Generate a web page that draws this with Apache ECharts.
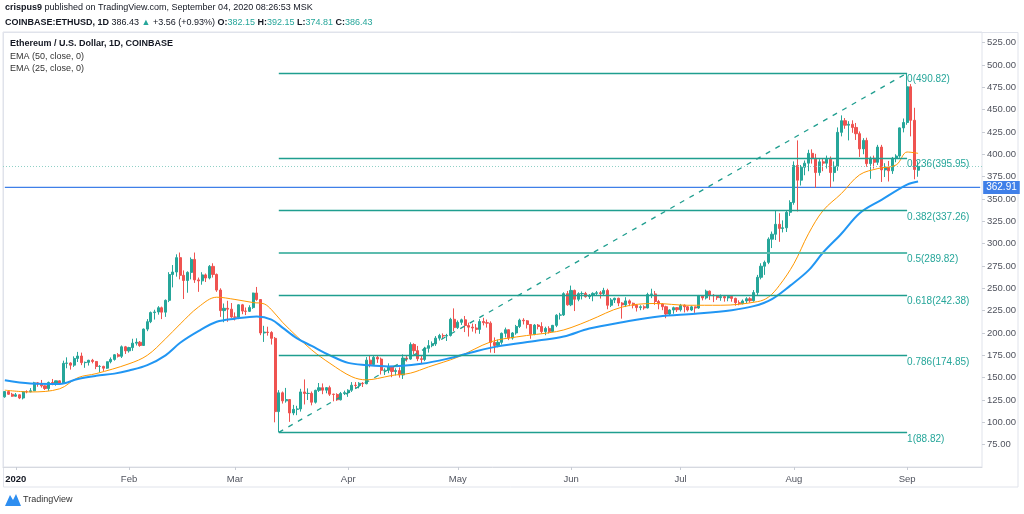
<!DOCTYPE html>
<html><head><meta charset="utf-8">
<script src="https://cdn.jsdelivr.net/npm/echarts@6/dist/echarts.min.js"></script>
<style>html,body{margin:0;padding:0;background:#fff}#c{width:1024px;height:514px}</style>
</head><body><div id="c"></div>
<script>
// ---------- DATA ----------
const startDate = '2019-12-29';
const axisDays = 268; // empty days after last candle keep right margin
const monthLabels = ['2020','Feb','Mar','Apr','May','Jun','Jul','Aug','Sep'];
const yTicks = [75,100,125,150,175,200,225,250,275,300,325,350,375,400,425,450,475,500,525];

// daily rows: [open, high, low, close]
const ohlcDec = [[128.5,135,127.5,134.4],[134.4,134.9,130.8,131.4],[131.4,133,128.5,129.2]];
const ohlcJan = [[129.2,132.8,128.6,130.8],[130.8,131.2,126,127.2],[127.2,135,125.6,134.3],[134.3,135.8,132.5,134.2],[134.2,138.3,133.6,135.3],[135.3,145.3,135,144.2],[144.2,145,139.8,142.9],[142.9,147.4,138.8,140.8],[140.8,141.4,136.2,137.8],[137.8,145.6,135.2,144.6],[144.6,148.5,141.5,142.4],[142.4,146.6,141,146.4],[146.4,146.9,142.6,144],[144,169,143.6,166],[166,172.7,160.5,166.4],[166.4,167.2,159,164],[164,173.8,162,171.5],[171.5,178.8,167.5,174.2],[174.2,178,164,166.8],[166.8,168,161,167.1],[167.1,170,163.5,169.4],[169.4,171,166,168.1],[168.1,168.5,159.5,162.5],[162.5,164,156,162.6],[162.6,163.3,157.5,160.6],[160.6,168,159.8,167.8],[167.8,172.6,166,170.4],[170.4,176.3,169,175.6],[175.6,177.5,172.5,173.9],[173.9,186,172,184.5],[184.5,185.5,176.5,180]];
const ohlcFeb = [[180,184.5,178,183.6],[183.6,193.5,180,188.6],[188.6,194,186,189.6],[189.6,191,184.5,186],[186,205,185.5,204.3],[204.3,215.5,202,212.6],[212.6,224,211,222.8],[222.8,226,215,223.5],[223.5,230,220.5,228.2],[228.2,229.5,215.5,223.3],[223.3,237.5,218,236.5],[236.5,268,234.5,265.4],[265.4,276,251,268.2],[268.2,288,263,284.3],[284.3,290,260,264.5],[264.5,270,238,258.7],[258.7,269,245,267.8],[267.8,284.5,260,282.3],[282.3,290,256,259.4],[259.4,262,246,258.3],[258.3,268,254,265],[265,266.5,257,261.5],[261.5,276,260,274.5],[274.5,278,262,265.5],[265.5,266.5,246,248],[248,250,218,225],[225,233,212,227.6],[227.6,236,212.5,226.6],[226.6,233.5,217,217.9]];
const ohlcMar = [[217.9,223,214,217.6],[217.6,232,215.5,231.5],[231.5,232.5,221,224.5],[224.5,228.5,220,224.2],[224.2,231,223.5,228.4],[228.4,245,227,244.7],[244.7,251.5,236,237.4],[237.4,238,197.5,200],[200,208,190,201],[201,207,197,200.5],[200.5,202,187,194],[194,195.5,100,112],[112,136,88.82,133],[133,134.5,121,124],[124,138.5,122,125.5],[125.5,126,100.5,110.5],[110.5,119.5,108,114.5],[114.5,118.5,108,115],[115,137.5,112,134],[134,148,120,132.3],[132.3,138,125,132.4],[132.4,134.5,119,122.5],[122.5,136.5,121,135.8],[135.8,144,134,138.7],[138.7,143.5,131.5,136],[136,139.5,132.5,138.8],[138.8,141,129.5,131.5],[131.5,132,123.5,131.2],[131.2,132.5,124,125.2],[125.2,134,124.5,132.3],[132.3,135.5,130.5,133.2]];
const ohlcApr = [[133.2,137,128.5,135.9],[135.9,145,134,141.5],[141.5,145,137.5,141.2],[141.2,145,138,143.7],[143.7,145,139.5,143.2],[143.2,173,142.5,169.6],[169.6,175,161.5,164.7],[164.7,174.5,163,172.7],[172.7,175,166.5,170.8],[170.8,172.5,153.5,158.2],[158.2,160.5,153,158.3],[158.3,166,155,161.8],[161.8,162,150.5,156.9],[156.9,160.5,152.5,157.9],[157.9,161.5,150,153],[153,176,148.5,171.9],[171.9,175,168,170.8],[170.8,189.5,170,187.1],[187.1,188.5,176,180.2],[180.2,185.5,168.5,171.2],[171.2,174.5,166,170.4],[170.4,184.5,168.5,182.8],[182.8,192,178,185.8],[185.8,190.5,184,187.8],[187.8,196.5,185.5,194.2],[194.2,199,191.5,197.2],[197.2,199.5,193,196.6],[196.6,199,191,197.2],[197.2,217,196,215.3],[215.3,227.5,202,206]];
const ohlcMay = [[206,214,204.5,211.9],[211.9,216,209,214.7],[214.7,219,201,208.3],[208.3,211.5,196,206.5],[206.5,210.5,201.5,205.6],[205.6,210,199.5,204],[204,215.5,199,212.8],[212.8,217,208.5,211.5],[211.5,215,206,211],[211,213,178,189.4],[189.4,195,177.5,186],[186,192.5,184,189.5],[189.5,200.5,187,199.6],[199.6,206,195,203.6],[203.6,204,192,194.3],[194.3,201,192.5,200],[200,209,198,207.3],[207.3,216,205.5,214.3],[214.3,216.5,209.5,213.6],[213.6,214.5,205,209.5],[209.5,210,193.5,198.5],[198.5,210,197.5,208.8],[208.8,210,204,207.2],[207.2,212,199.5,201.5],[201.5,207,197.5,205.1],[205.1,207.5,199.5,201.7],[201.7,209,201,208.5],[208.5,221,206.5,219.9],[219.9,222.5,215,220.2],[220.2,245.5,219,244],[244,247,230.5,231.5]];
const ohlcJun = [[231.5,253,230,247.6],[247.6,248.5,224.5,237.7],[237.7,245.5,235.5,244],[244,246.5,237.5,244.2],[244.2,246,239.5,240.6],[240.6,243.5,238,241.9],[241.9,245.5,235.5,244.3],[244.3,247,241.5,245],[245,247,238.5,244],[244,250.5,241.5,247.6],[247.6,249.5,226.5,231],[231,239,229,237],[237,239.5,233.5,238.8],[238.8,239.5,230,233.5],[233.5,234.5,216,231.4],[231.4,240,229,235.9],[235.9,237.5,230,233.2],[233.2,234,227.5,231],[231,232.5,224,228.4],[228.4,231,225.5,229.3],[229.3,231,226,228],[228,245,227.5,243],[243,249.5,239,243.7],[243.7,247,231.5,235.2],[235.2,237,226.5,232.5],[232.5,233.5,225.5,229.4],[229.4,230.5,216.5,221.2],[221.2,226.5,219,225.7],[225.7,229.5,221.5,228.3],[228.3,229,223.5,226]];
const ohlcJul = [[226,232.5,224,231],[231,232,223,229.3],[229.3,230,224,225.7],[225.7,230.5,224.5,229.2],[229.2,229.5,222.5,227.9],[227.9,242.5,227,241.6],[241.6,242,236.5,239.2],[239.2,248.5,237.5,246.8],[246.8,247.5,237,242.2],[242.2,243.5,234.5,241.7],[241.7,242.5,237,239.5],[239.5,243,236,240.7],[240.7,242.5,235,239.2],[239.2,241.5,235.5,240.9],[240.9,242,235,238.7],[238.7,239.5,230.5,233.9],[233.9,236.5,231,232.8],[232.8,237.5,232,235.8],[235.8,240,233.5,238.3],[238.3,240,234,236.1],[236.1,248,235,245.2],[245.2,265,242,262.3],[262.3,278,260,274.7],[274.7,281,265,279],[279,307,277,305],[305,313.5,295,310.5],[310.5,336.5,304,321.6],[321.6,334,302,317],[317,326,312.5,317.7],[317.7,337,313,335],[335,348.5,331,346]];
const ohlcAug = [[346,392,343.5,387.5],[387.5,415.5,336,371],[371,388,365,385.5],[385.5,393,376.5,390],[390,405,381,401],[401,405.5,389.5,395.5],[395.5,400.5,362.5,379.5],[379.5,394.5,376,391.5],[391.5,395,381,390],[390,398.5,384,394.5],[394.5,397.5,363,379.5],[379.5,392,369.5,386.5],[386.5,430,381.5,424.5],[424.5,443.5,420,437.5],[437.5,440.5,428.5,432.5],[432.5,437,415.5,433.5],[433.5,438,424,430],[430,435,416,423],[423,425.5,397,406],[406,418,400,415.5],[415.5,418.5,386,389.5],[389.5,397.5,372.5,395.5],[395.5,398.5,384,391],[391,410.5,388,408],[408,410.5,369,382.5],[382.5,390,374.5,385.5],[385.5,392.5,369.5,381.5],[381.5,397,378,395.5],[395.5,400,391,398],[398,430,396,429.5],[429.5,440,424.5,435.5]];
const ohlcSep = [[435.5,490.82,433,475.5],[475.5,478.5,420,438],[438,452,372,382.87],[382.15,392.15,374.81,386.43]];

// EMA lines: [date, value]
const ema50Points = [['2019-12-29',147],['2020-01-05',143.5],['2020-01-13',143],['2020-01-18',148.5],['2020-01-23',152],['2020-01-28',154.5],['2020-02-01',158],['2020-02-06',164],['2020-02-11',175],['2020-02-15',189],['2020-02-20',202],['2020-02-25',212.5],['2020-03-01',216],['2020-03-07',218.5],['2020-03-11',215],['2020-03-14',206],['2020-03-18',194],['2020-03-22',185.5],['2020-03-27',175],['2020-04-01',166.5],['2020-04-06',164],['2020-04-12',162.5],['2020-04-21',165.5],['2020-04-28',171],['2020-05-05',178.5],['2020-05-12',185],['2020-05-23',191.5],['2020-05-30',196],['2020-06-06',205],['2020-06-15',212],['2020-06-25',218.5],['2020-07-05',221.5],['2020-07-15',225.5],['2020-07-21',230],['2020-07-26',238],['2020-07-31',253],['2020-08-05',270],['2020-08-09',290],['2020-08-14',311],['2020-08-19',334],['2020-08-25',349],['2020-09-01',366],['2020-09-04',369.5]];
const ema25Points = [['2019-12-29',136],['2020-01-05',134],['2020-01-13',137.5],['2020-01-18',150],['2020-01-23',154.5],['2020-02-01',165.5],['2020-02-06',175],['2020-02-11',193.5],['2020-02-15',210],['2020-02-20',229],['2020-02-25',240],['2020-03-01',237.5],['2020-03-06',234],['2020-03-09',232.5],['2020-03-11',226],['2020-03-14',212],['2020-03-18',196],['2020-03-22',181],['2020-03-27',166],['2020-04-02',151],['2020-04-06',147.5],['2020-04-09',149],['2020-04-13',152.5],['2020-04-18',155],['2020-04-23',162],['2020-05-01',173],['2020-05-10',190],['2020-05-17',195.5],['2020-05-28',201.5],['2020-06-01',206],['2020-06-06',214],['2020-06-15',229],['2020-06-24',233],['2020-07-03',231],['2020-07-12',231],['2020-07-22',235],['2020-07-25',240],['2020-07-28',253],['2020-08-01',277.5],['2020-08-05',311],['2020-08-09',337],['2020-08-14',356],['2020-08-19',377],['2020-08-24',384],['2020-08-29',388],['2020-09-01',402.5],['2020-09-04',401]];

// Fibonacci retracement
const fibRatios = ['0','0.236','0.382','0.5','0.618','0.786','1'];
const fibPrices = [490.82,395.95,337.26,289.82,242.38,174.85,88.82];
const fibStart = '2020-03-13';
const fibEnd = '2020-09-01';
const hLinePrice = 362.91;
const lastPrice = 386.43;

// ---------- BUILD ----------
function addDays(iso, n){
  const p = iso.split('-').map(Number);
  const d = new Date(Date.UTC(p[0], p[1]-1, p[2] + n));
  return d.toISOString().slice(0,10);
}
const dates = [];
for (let i = 0; i < axisDays; i++) dates.push(addDays(startDate, i));
const rows = [].concat(ohlcDec, ohlcJan, ohlcFeb, ohlcMar, ohlcApr, ohlcMay, ohlcJun, ohlcJul, ohlcAug, ohlcSep);
const candles = rows.map(r => [r[0], r[3], r[2], r[1]]);

const UP = '#26a69a', DOWN = '#ef5350', TEAL = '#1f9e8f', BLUE = '#3f7fe8';
const font = 'Liberation Sans, Arial, sans-serif';
const FS = 9;

const fibData = fibRatios.map((r, i) => [
  {coord: [fibStart, fibPrices[i]],
   lineStyle: {color: r === '0.5' ? '#5cbcae' : TEAL, width: r === '0.5' ? 2 : 1.3, type: 'solid'},
   label: {show: true, position: 'end', distance: 0, formatter: r + '(' + fibPrices[i].toFixed(2) + ')',
           color: '#26a69a', fontSize: 10, fontFamily: font, verticalAlign: 'top', lineHeight: 13}},
  {coord: [fibEnd, fibPrices[i]]}
]);
fibData.push([
  {coord: [fibStart, fibPrices[6]], lineStyle: {color: TEAL, width: 1.3, type: [5,6]}, label: {show: false}},
  {coord: [fibEnd, fibPrices[0]]}
]);

const chart = echarts.init(document.getElementById('c'), null, {renderer: 'canvas'});
chart.setOption({
  animation: false,
  backgroundColor: '#ffffff',
  grid: {left: 3, right: 42, top: 32, bottom: 47, show: true, borderColor: '#e0e3eb', borderWidth: 1},
  xAxis: {
    type: 'category', data: dates, boundaryGap: true,
    axisLine: {show: true, lineStyle: {color: '#d6d9e0'}},
    axisTick: {show: true, length: 3, alignWithLabel: true, lineStyle: {color: '#c8ccd4'},
      interval: (i, v) => v.slice(8) === '01'},
    axisLabel: {
      interval: (i, v) => v.slice(8) === '01',
      formatter: v => { const m = +v.slice(5,7); return m === 1 ? '{b|' + monthLabels[0] + '}' : monthLabels[m-1]; },
      color: '#50535e', fontSize: 9.5, fontFamily: font, margin: 7,
      rich: {b: {fontWeight: 'bold', color: '#131722', fontSize: 9.5, fontFamily: font}}
    },
    splitLine: {show: false}
  },
  yAxis: {
    type: 'value', position: 'right', min: 50, max: 536.8, interval: 25, scale: true,
    axisLine: {show: false},
    axisTick: {show: true, length: 3, lineStyle: {color: '#c8ccd4'}},
    axisLabel: {showMinLabel: false, showMaxLabel: false, formatter: v => v.toFixed(2),
      color: '#50535e', fontSize: 9.5, fontFamily: font, margin: 5},
    splitLine: {show: false}
  },
  series: [
    {type: 'line', data: [], z: 1,
     markLine: {silent: true, symbol: ['none','none'], animation: false,
       lineStyle: {color: '#8fd0c6', width: 1, type: [1,2]}, label: {show: false},
       data: [{yAxis: lastPrice}]}},
    {type: 'line', z: 1, showSymbol: false, silent: true,
     data: [[dates[0], hLinePrice], [dates[dates.length - 1], hLinePrice]],
     itemStyle: {color: BLUE},
     lineStyle: {color: BLUE, width: 1.2, type: 'solid'},
     endLabel: {show: true, distance: 3, formatter: hLinePrice.toFixed(2), color: '#ffffff',
        backgroundColor: BLUE, padding: [2,3,1,3], fontSize: 10, fontFamily: font}},
    {type: 'candlestick', data: candles, barWidth: 2.6,
     itemStyle: {color: UP, color0: DOWN, borderColor: UP, borderColor0: DOWN, borderWidth: 1}},
    {type: 'line', data: ema25Points, showSymbol: false, smooth: 0.35,
     lineStyle: {color: '#ff9800', width: 1}, z: 3},
    {type: 'line', data: ema50Points, showSymbol: false, smooth: 0.35,
     lineStyle: {color: '#2196f3', width: 2}, z: 4},
    {type: 'line', data: [], markLine: {silent: true, symbol: ['none','none'], animation: false, data: fibData}}
  ],
  graphic: [
    {type: 'rect', shape: {x: 3.5, y: 32.5, width: 1014.5, height: 454.5}, style: {fill: 'none', stroke: '#e0e3eb', lineWidth: 1}, silent: true},
    {type: 'text', left: 5, top: 3, style: {
      text: '{b|crispus9} published on TradingView.com, September 04, 2020 08:26:53 MSK',
      font: FS + 'px ' + font, fill: '#131722',
      rich: {b: {fontWeight: 'bold', fontSize: FS, fontFamily: font, fill: '#131722'}}}},
    {type: 'text', left: 5, top: 18, style: {
      text: '{b|COINBASE:ETHUSD, 1D} 386.43 {g|▲} +3.56 (+0.93%) {b|O:}{g|382.15} {b|H:}{g|392.15} {b|L:}{g|374.81} {b|C:}{g|386.43}',
      font: FS + 'px ' + font, fill: '#131722',
      rich: {b: {fontWeight: 'bold', fontSize: FS, fontFamily: font, fill: '#131722'},
             g: {fontSize: FS, fontFamily: font, fill: '#26a69a'}}}},
    {type: 'text', left: 10, top: 39, style: {text: 'Ethereum / U.S. Dollar, 1D, COINBASE', font: 'bold ' + FS + 'px ' + font, fill: '#131722'}},
    {type: 'text', left: 10, top: 52, style: {text: 'EMA (50, close, 0)', font: FS + 'px ' + font, fill: '#333'}},
    {type: 'text', left: 10, top: 64, style: {text: 'EMA (25, close, 0)', font: FS + 'px ' + font, fill: '#333'}},
    {type: 'polygon', shape: {points: [[5,506],[10,495],[13,500],[16,494],[21,506]]}, style: {fill: '#2e8ef0'}},
    {type: 'text', left: 23, top: 495, style: {text: 'TradingView', font: FS + 'px ' + font, fill: '#333'}}
  ]
});
</script></body></html>
